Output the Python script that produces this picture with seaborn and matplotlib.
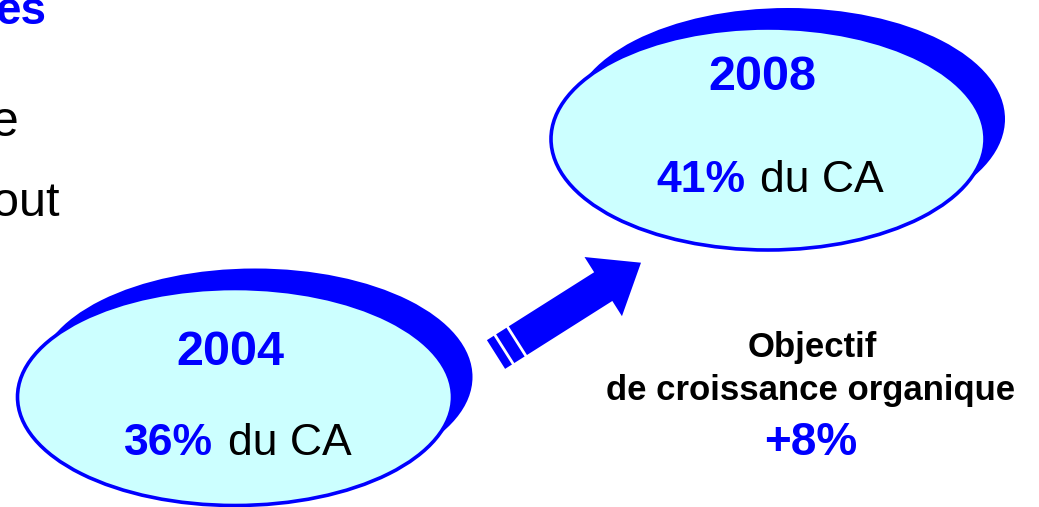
import numpy as np
import matplotlib
matplotlib.use("Agg")
import matplotlib.pyplot as plt
from matplotlib.patches import Ellipse, Polygon
import seaborn as sns

# ---- data ----
years = ["2004", "2008"]
shares = [36, 41]            # % du CA
share_suffix = "du CA"
growth_target = 8            # objectif de croissance organique (%)
growth_lines = ["Objectif", "de croissance organique"]
fragments = ["es", "e", "out"]   # cropped text at the left edge

# ---- style ----
sns.set_theme(style="white")
plt.rcParams["font.family"] = ["Liberation Sans", "DejaVu Sans"]
BLUE = "#0000FF"
CYAN = "#CCFFFF"

fig = plt.figure(figsize=(10.39, 5.07), dpi=100)
ax = fig.add_axes([0, 0, 1, 1])
ax.set_xlim(0, 1039)
ax.set_ylim(507, 0)
ax.axis("off")

# layout of the two bubbles (pixel coords)
bubbles = [
    dict(cx=235, cy=397, w=435, h=217, year_y=365, pct_y=455, pct_right=213, du_left=228, year_x=230),
    dict(cx=768, cy=139, w=434, h=222, year_y=90, pct_y=192, pct_right=745, du_left=760, year_x=762),
]

for yr, sh, b in zip(years, shares, bubbles):
    # shadow crescent
    ax.add_patch(Ellipse((b["cx"] + 20, b["cy"] - 20), b["w"], b["h"],
                         facecolor=BLUE, edgecolor=BLUE, lw=0, zorder=1))
    ax.add_patch(Ellipse((b["cx"], b["cy"]), b["w"], b["h"],
                         facecolor=CYAN, edgecolor=BLUE, lw=2.6, zorder=2))
    ax.text(b["year_x"], b["year_y"], yr, color=BLUE, fontsize=35, fontweight="bold",
            ha="center", va="baseline", zorder=3)
    ax.text(b["pct_right"], b["pct_y"], f"{sh}%", color=BLUE, fontsize=32, fontweight="bold",
            ha="right", va="baseline", zorder=3)
    ax.text(b["du_left"], b["pct_y"], share_suffix, color="black", fontsize=32,
            ha="left", va="baseline", zorder=3)

# ---- striped arrow ----
T = np.array([496.0, 354.5])
P = np.array([641.0, 262.7])
L = np.linalg.norm(P - T)
u = (P - T) / L
n = np.array([-u[1], u[0]])  # perpendicular
hw_shaft, hw_head, head_len = 17.0, 35.0, 44.7
base = L - head_len
pts = [T + n * hw_shaft, T + u * base + n * hw_shaft, T + u * base + n * hw_head, P,
       T + u * base - n * hw_head, T + u * base - n * hw_shaft, T - n * hw_shaft]
ax.add_patch(Polygon(pts, closed=True, facecolor=BLUE, edgecolor="none", zorder=2))
for s in (9.5, 24.5):
    a = T + u * s + n * (hw_shaft + 1)
    c = T + u * s - n * (hw_shaft + 1)
    ax.plot([a[0], c[0]], [a[1], c[1]], color="white", lw=2.0, zorder=3, solid_capstyle="butt")

# ---- right text block ----
ax.text(812, 357, growth_lines[0], color="black", fontsize=25, fontweight="bold",
        ha="center", va="baseline")
ax.text(811, 400, growth_lines[1], color="black", fontsize=25, fontweight="bold",
        ha="center", va="baseline")
ax.text(811, 455, f"+{growth_target}%", color=BLUE, fontsize=33, fontweight="bold",
        ha="center", va="baseline")

# ---- cropped text at left ----
ax.text(46, 24, fragments[0], color=BLUE, fontsize=33, fontweight="bold", ha="right", va="baseline")
ax.text(19, 136, fragments[1], color="black", fontsize=36, ha="right", va="baseline")
ax.text(59, 216, fragments[2], color="black", fontsize=35, ha="right", va="baseline")

fig.savefig("out.png", dpi=100)
